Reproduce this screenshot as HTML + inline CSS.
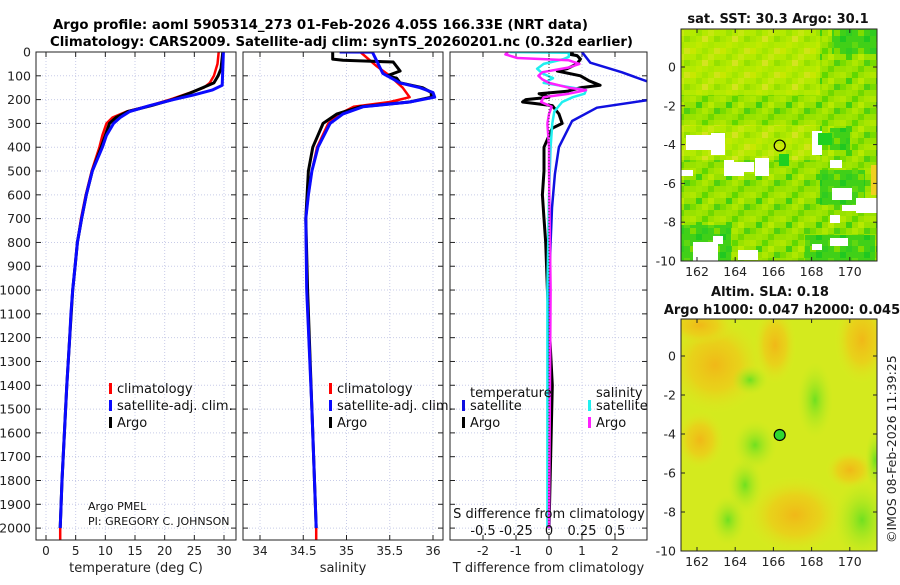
<!DOCTYPE html>
<html><head><meta charset="utf-8"><style>
body{margin:0;background:#fff;}
svg text{font-family:"DejaVu Sans","Liberation Sans",sans-serif;}
</style></head><body>
<svg id="fig" width="900" height="580" xmlns="http://www.w3.org/2000/svg">
<text x="53" y="29" font-size="13" font-weight="bold" textLength="535" lengthAdjust="spacingAndGlyphs">Argo profile: aoml 5905314_273 01-Feb-2026 4.05S 166.33E (NRT data)</text>
<text x="50" y="46" font-size="13" font-weight="bold" textLength="583" lengthAdjust="spacingAndGlyphs">Climatology: CARS2009. Satellite-adj clim: synTS_20260201.nc (0.32d earlier)</text>
<defs>
<pattern id="patY" width="30" height="24" patternUnits="userSpaceOnUse">
<rect width="30" height="24" fill="#b4ea00"/>
<rect x="0" y="0" width="6" height="6" fill="#c8e800"/><rect x="12" y="0" width="6" height="6" fill="#a2e600"/><rect x="24" y="0" width="6" height="6" fill="#d0e418"/>
<rect x="6" y="6" width="6" height="6" fill="#9ee400"/><rect x="18" y="6" width="6" height="6" fill="#c6e810"/>
<rect x="0" y="12" width="6" height="6" fill="#a8e600"/><rect x="12" y="12" width="6" height="6" fill="#d4e420"/><rect x="24" y="12" width="6" height="6" fill="#94e000"/>
<rect x="6" y="18" width="6" height="6" fill="#c0ea00"/><rect x="18" y="18" width="6" height="6" fill="#aae800"/>
</pattern>
<pattern id="patG" width="30" height="24" patternUnits="userSpaceOnUse">
<rect width="30" height="24" fill="#98e200"/>
<rect x="0" y="0" width="6" height="6" fill="#b0e800"/><rect x="12" y="0" width="6" height="6" fill="#60d800"/><rect x="24" y="0" width="6" height="6" fill="#a8e600"/>
<rect x="6" y="6" width="6" height="6" fill="#40d010"/><rect x="18" y="6" width="6" height="6" fill="#b8ea00"/>
<rect x="0" y="12" width="6" height="6" fill="#78dc00"/><rect x="12" y="12" width="6" height="6" fill="#aee800"/><rect x="24" y="12" width="6" height="6" fill="#50d010"/>
<rect x="6" y="18" width="6" height="6" fill="#a0e600"/><rect x="18" y="18" width="6" height="6" fill="#70d800"/>
</pattern>
<pattern id="patD" width="24" height="18" patternUnits="userSpaceOnUse">
<rect width="24" height="18" fill="#40d018"/>
<rect x="0" y="0" width="6" height="6" fill="#20c820"/><rect x="12" y="6" width="6" height="6" fill="#60d810"/><rect x="6" y="12" width="6" height="6" fill="#30cc20"/><rect x="18" y="12" width="6" height="6" fill="#80dc00"/>
</pattern>
</defs>
<g id="panels"></g>
<g id="maps"></g>
</svg>
<script>
// ---- data (depth in m) ----
const tClimDepth = [0,50,100,130,150,175,200,225,250,275,300,350,400,500,600,700,800,900,1000,1100,1200,1400,1600,1800,2000,2050];
const tClim      = [29.1,28.9,28.3,27.6,26.6,23.8,20.9,17.5,13.6,11.2,10.2,9.5,9.0,7.7,6.7,5.9,5.3,4.9,4.5,4.2,4.0,3.5,3.1,2.7,2.4,2.4];
const tSatDepth  = [0,140,160,180,200,225,250,275,300,350,400,500,600,700,800,900,1000,1100,1200,1400,1600,1800,2000];
const tSat       = [29.9,29.7,28.0,25.0,21.5,17.5,14.1,12.5,11.4,10.2,9.5,7.8,6.8,6.0,5.3,4.9,4.5,4.2,4.0,3.5,3.1,2.7,2.4];
const tArgoDepth = [0,70,100,130,150,175,200,225,250,275,300,400,500,600,700,800,900,1000,1200,1400,1600,1800,2000];
const tArgo      = [29.8,29.5,29.0,28.3,26.4,24.0,21.3,17.8,13.8,11.8,10.7,9.3,7.8,6.8,6.0,5.3,4.9,4.5,4.0,3.5,3.1,2.7,2.4];
const sClimDepth = [0,60,100,150,190,210,230,260,300,400,500,600,700,1000,1500,2000,2050];
const sClim      = [35.16,35.35,35.5,35.65,35.73,35.5,35.08,34.92,34.79,34.66,34.6,34.56,34.53,34.54,34.6,34.65,34.65];
const sSatDepth  = [0,0.5,45,90,110,130,150,170,190,210,230,260,300,400,500,600,700,1000,1500,2000];
const sSat       = [34.92,35.3,35.36,35.42,35.52,35.62,35.85,36.0,36.02,35.73,35.19,34.96,34.81,34.67,34.6,34.56,34.53,34.54,34.6,34.65];
const sArgoDepth = [0,30,35,42,80,100,110,130,150,170,190,210,230,260,300,400,500,700,1000,1500,2000];
const sArgo      = [34.84,34.84,34.96,35.54,35.62,35.47,35.58,35.62,35.88,35.98,35.98,35.73,35.16,34.89,34.73,34.61,34.56,34.53,34.55,34.6,34.65];
const dTSatDepth = [0,45,85,130,200,234,290,400,513,655,800,1000,2000];
const dTSat      = [1.0,1.25,2.2,3.1,3.1,1.45,0.7,0.3,0.18,0.09,0.05,0.0,0.0];
const dTArgoDepth= [0,10,15,30,50,70,80,100,120,140,150,165,175,190,200,210,225,260,300,320,400,500,600,700,800,1000,1400,2000];
const dTArgo     = [0.73,0.64,0.85,0.95,0.85,0.55,0.25,0.95,1.2,1.55,0.95,0.55,-0.3,0.0,-0.7,-0.8,0.1,0.3,0.4,0.1,-0.15,-0.15,-0.2,-0.15,-0.1,-0.05,0.1,0.0];
const dSSatDepth = [0,3,20,30,50,70,90,110,130,150,160,175,190,210,250,300,400,600,1000,2000];
const dSSat      = [-0.3,0.15,0.15,0.11,-0.04,-0.09,-0.05,0.03,-0.04,0.18,0.28,0.27,0.18,0.1,0.04,0.025,0.012,0.0,-0.012,-0.012];
const dSArgoDepth= [0,10,25,35,50,65,85,100,115,130,150,160,175,190,210,230,260,300,400,500,1000,2000];
const dSArgo     = [-0.31,-0.33,-0.24,0.15,0.23,0.15,-0.05,-0.08,-0.05,0.0,0.15,0.28,0.15,-0.04,-0.06,0.02,0.0,-0.012,0.0,0.0,0.012,0.0];
const depthTicks = [0,100,200,300,400,500,600,700,800,900,1000,1100,1200,1300,1400,1500,1600,1700,1800,1900,2000];
const tTicks = [0,5,10,15,20,25,30];
const sTicks = [34,34.5,35,35.5,36];
const dTTicks = [-2,-1,0,1,2];
const dSTicks = [-0.5,-0.25,0,0.25,0.5];

const NS="http://www.w3.org/2000/svg";
const panels=document.getElementById('panels');
function mk(tag,attrs,parent,txt){const e=document.createElementNS(NS,tag);for(const k in attrs)e.setAttribute(k,attrs[k]);if(txt!==undefined)e.textContent=txt;(parent||panels).appendChild(e);return e;}
const yTop=52,yBot=540;
function yOf(d){return yTop+(d/2050)*(yBot-yTop);}
function makeX(x0,x1,v0,v1){return v=>x0+(v-v0)/(v1-v0)*(x1-x0);}
const P=[
 {x0:36,x1:236,xs:makeX(46,224,0,30),ticks:tTicks,title:'temperature (deg C)',name:'temperature-panel'},
 {x0:243,x1:443,xs:makeX(260,433,34,36),ticks:sTicks,title:'salinity',name:'salinity-panel'},
 {x0:450,x1:647,xs:makeX(549,615,0,2),ticks:dTTicks,title:'T difference from climatology',name:'difference-panel'}
];
P.forEach((p,i)=>{
  const g=mk('g',{});
  
  
  const cp=mk('clipPath',{id:'cp'+i},g);mk('rect',{x:p.x0,y:yTop,width:p.x1-p.x0,height:yBot-yTop},cp);
  depthTicks.forEach(d=>{const l=mk('line',{x1:p.x0,x2:p.x1,y1:yOf(d),y2:yOf(d),stroke:'#c8cce8','stroke-width':1,'stroke-dasharray':'1,2'},g);
    
    
    mk('line',{x1:p.x0,x2:p.x0+5,y1:yOf(d),y2:yOf(d),stroke:'#222'},g);mk('line',{x1:p.x1,x2:p.x1-5,y1:yOf(d),y2:yOf(d),stroke:'#222'},g);});
  p.ticks.forEach((t,j)=>{const x=p.xs(t);const l=mk('line',{x1:x,x2:x,y1:yTop,y2:yBot,stroke:'#c8cce8','stroke-dasharray':'1,2'},g);
    
    
    mk('line',{x1:x,x2:x,y1:yTop,y2:yTop+5,stroke:'#222'},g);mk('line',{x1:x,x2:x,y1:yBot,y2:yBot-5,stroke:'#222'},g);
    const tx=mk('text',{x:x,y:555,'font-size':12,'text-anchor':'middle',fill:'#222'},g,String(t));
    
    });
  const at=mk('text',{x:(p.x0+p.x1)/2,y:572,'font-size':13,'text-anchor':'middle',fill:'#222'},g,p.title);
  
  
  p.g=g;
});
depthTicks.forEach(d=>{const t=mk('text',{x:31,y:yOf(d)+4.5,'font-size':12.5,'text-anchor':'end',fill:'#222'},panels,String(d));
  
  });
function line(pi,depths,vals,color,w,name,scale){
  const p=P[pi];const sc=scale||1;
  const pts=depths.map((d,k)=>p.xs(vals[k]*sc).toFixed(1)+','+yOf(d).toFixed(1)).join(' ');
  const e=mk('polyline',{points:pts,fill:'none',stroke:color,'stroke-width':w,'stroke-linejoin':'round','clip-path':'url(#cp'+pi+')'},p.g);
  
  
}
line(0,tClimDepth,tClim,'#f00',2.5,'temperature-climatology-line');
line(0,tArgoDepth,tArgo,'#000',3,'temperature-argo-line');
line(0,tSatDepth,tSat,'#0a0aff',3,'temperature-satellite-line');
line(1,sClimDepth,sClim,'#f00',2.5,'salinity-climatology-line');
line(1,sArgoDepth,sArgo,'#000',3,'salinity-argo-line');
line(1,sSatDepth,sSat,'#0a0aff',3,'salinity-satellite-line');
line(2,dTArgoDepth,dTArgo,'#000',3,'t-diff-argo-line');
line(2,dTSatDepth,dTSat,'#1010e0',2.5,'t-diff-satellite-line');
line(2,dSSatDepth,dSSat,'#20f0f0',2.5,'s-diff-satellite-line',4);
line(2,dSArgoDepth,dSArgo,'#ff20ff',2.5,'s-diff-argo-line',4);
const zx=P[2].xs(0);
const zl=mk('line',{x1:zx,x2:zx,y1:yTop,y2:yBot,stroke:'#333','stroke-dasharray':'1,2'},P[2].g);


P.forEach(p=>{const b=mk('rect',{x:p.x0,y:yTop,width:p.x1-p.x0,height:yBot-yTop,fill:'none',stroke:'#222','stroke-width':1},p.g);
  
  });
// legends
function leg(x,y,color,label,g){const m=mk('rect',{x:x,y:y-8,width:3,height:11,fill:color},g);
  
  
  const t=mk('text',{x:x+8,y:y+2,'font-size':13,fill:'#111'},g,label);
  
  }
[[0,109],[1,329]].forEach(([pi,x])=>{leg(x,391,'#f00','climatology',P[pi].g);leg(x,408,'#0a0aff','satellite-adj. clim.',P[pi].g);leg(x,425,'#000','Argo',P[pi].g);});
const g3=P[2].g;
let t1=mk('text',{x:470,y:397,'font-size':13,fill:'#111'},g3,'temperature');
let t2=mk('text',{x:596,y:397,'font-size':13,fill:'#111'},g3,'salinity');
leg(462,408,'#1010e0','satellite',g3);leg(462,425,'#000','Argo',g3);
leg(588,408,'#20f0f0','satellite',g3);leg(588,425,'#ff20ff','Argo',g3);
let sd=mk('text',{x:549,y:518,'font-size':13,'text-anchor':'middle',fill:'#111'},g3,'S difference from climatology');

dSTicks.forEach(t=>{const x=P[2].xs(t*4);const e=mk('text',{x:x,y:535,'font-size':13,'text-anchor':'middle',fill:'#111'},g3,String(t));
  
  });
let pm=mk('text',{x:88,y:510,'font-size':11,fill:'#111'},P[0].g,'Argo PMEL');
let pi2=mk('text',{x:88,y:525,'font-size':11,fill:'#111'},P[0].g,'PI: GREGORY C. JOHNSON');

// ---- maps ----
const maps=document.getElementById('maps');
const lonTicks=[162,164,166,168,170];
const latTicks=[0,-2,-4,-6,-8,-10];
function map(y0,y1,lat0y,name,title1,title2,sst){
  const g=mk('g',{},maps);
  
  
  const x0=681,x1=877;
  const lx=v=>697+(v-162)*19.1;
  const ly=v=>lat0y+(-v)*((y1-lat0y)/10);
  const cid='mc'+name;const cp=mk('clipPath',{id:cid},g);mk('rect',{x:x0,y:y0,width:x1-x0,height:y1-y0},cp);
  const c=mk('g',{'clip-path':'url(#'+cid+')'},g);
  if(sst){
    mk('rect',{x:x0,y:y0,width:x1-x0,height:y1-y0,fill:'url(#patY)'},c);
    [[681,95,196,30],[681,160,196,101],[820,29,57,131]].forEach(r=>mk('rect',{x:r[0],y:r[1],width:r[2],height:r[3],fill:'url(#patG)'},c));
    [[832,29,45,25],[681,225,50,36],[820,170,45,35],[805,235,70,26],[830,128,20,22]].forEach(r=>mk('rect',{x:r[0],y:r[1],width:r[2],height:r[3],fill:'url(#patD)'},c));
    mk('rect',{x:871,y:165,width:6,height:30,fill:'#f0d020'},c);
    [[686,135,25,15],[711,133,14,22],[724,160,10,8],[724,162,30,10],[724,168,20,8],[755,158,14,18],[681,170,12,6],[812,131,10,24],[830,160,12,8],[832,188,20,12],[856,198,22,15],[830,215,10,8],[842,205,30,6],[693,242,25,20],[713,236,10,8],[738,250,20,10],[812,244,10,6],[830,238,18,8]].forEach(r=>mk('rect',{x:r[0],y:r[1],width:r[2],height:r[3],fill:'#fff'},c));
    [[818,133,14,12],[779,154,10,12]].forEach(r=>mk('rect',{x:r[0],y:r[1],width:r[2],height:r[3],fill:'#1fd020'},c));
  } else {
    const d=mk('defs',{},g);
    const rg=mk('radialGradient',{id:'og'},d);mk('stop',{offset:'0','stop-color':'#f0b818'},rg);mk('stop',{offset:'0.5','stop-color':'#f0c818','stop-opacity':0.7},rg);mk('stop',{offset:'1','stop-color':'#dcea20','stop-opacity':0},rg);
    const gg=mk('radialGradient',{id:'gg'},d);mk('stop',{offset:'0','stop-color':'#70e020'},gg);mk('stop',{offset:'1','stop-color':'#c0ea20','stop-opacity':0},gg);
    mk('rect',{x:x0,y:y0,width:x1-x0,height:y1-y0,fill:'#d4ea1e'},c);
    [[715,365,50,50],[700,325,35,20],[775,345,22,40],[862,340,28,45],[795,515,50,40],[850,470,25,20],[700,440,25,30]].forEach(e=>mk('ellipse',{cx:e[0],cy:e[1],rx:e[2],ry:e[3],fill:'url(#og)'},c));
    [[815,400,18,38],[755,445,22,25],[750,380,18,15],[745,485,18,28],[728,520,18,25],[862,520,28,40],[875,460,10,30]].forEach(e=>mk('ellipse',{cx:e[0],cy:e[1],rx:e[2],ry:e[3],fill:'url(#gg)'},c));
  }
  const mx=lx(166.33),my=ly(-4.05);
  const mrk=mk('circle',{cx:mx,cy:my,r:5.5,fill:sst?'none':'#30d830',stroke:'#000','stroke-width':1.2},g);
  
  
  mk('rect',{x:x0,y:y0,width:x1-x0,height:y1-y0,fill:'none',stroke:'#222'},g);
  lonTicks.forEach(v=>{const x=lx(v);mk('line',{x1:x,x2:x,y1:y1,y2:y1-4,stroke:'#222'},g);mk('line',{x1:x,x2:x,y1:y0,y2:y0+4,stroke:'#222'},g);
    const t=mk('text',{x:x,y:y1+15,'font-size':12.5,'text-anchor':'middle',fill:'#222'},g,String(v));
    
    });
  latTicks.forEach(v=>{const y=ly(v);mk('line',{x1:x0,x2:x0+4,y1:y,y2:y,stroke:'#222'},g);mk('line',{x1:x1,x2:x1-4,y1:y,y2:y,stroke:'#222'},g);
    const t=mk('text',{x:676,y:y+4.5,'font-size':12.5,'text-anchor':'end',fill:'#222'},g,String(v));
    
    });
  title1&&(()=>{const t=mk('text',{x:title1[1],y:title1[2],'font-size':13,'font-weight':'bold','text-anchor':'middle',fill:'#111'},g,title1[0]);})();
  title2&&(()=>{const t=mk('text',{x:title2[1],y:title2[2],'font-size':13,'font-weight':'bold','text-anchor':'middle',fill:'#111'},g,title2[0]);})();
}
map(29,261,67,'sst-map',['sat. SST: 30.3 Argo: 30.1',778,23],null,true);
map(319,551,356,'sla-map',['Altim. SLA: 0.18',770,296],['Argo h1000: 0.047 h2000: 0.045',782,314],false);
const cr=mk('text',{x:0,y:0,'font-size':12.5,fill:'#222',transform:'translate(896,543) rotate(-90)'},maps,'©IMOS 08-Feb-2026 11:39:25');


</script>
</body></html>
